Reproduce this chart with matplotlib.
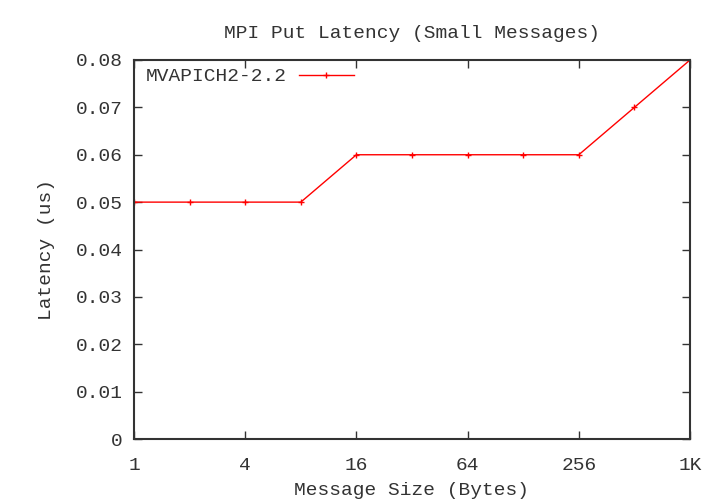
import matplotlib
matplotlib.use('Agg')
import matplotlib.pyplot as plt
from matplotlib.ticker import FixedLocator, NullLocator

plt.rcParams['font.family'] = ['Liberation Mono', 'DejaVu Sans Mono']

# message sizes in bytes and latency in us
sizes = [1, 2, 4, 8, 16, 32, 64, 128, 256, 512, 1024]
latency = [0.05, 0.05, 0.05, 0.05, 0.06, 0.06, 0.06, 0.06, 0.06, 0.07, 0.08]
xtick_vals = [1, 4, 16, 64, 256, 1024]
xtick_labels = ['1', '4', '16', '64', '256', '1K']
ytick_vals = [0, 0.01, 0.02, 0.03, 0.04, 0.05, 0.06, 0.07, 0.08]
ytick_labels = ['0', '0.01', '0.02', '0.03', '0.04', '0.05', '0.06', '0.07', '0.08']

fs = 14
fig = plt.figure(figsize=(7.2, 5.04), dpi=100)
ax = fig.add_axes([134/720, 1 - 439/504, (690-134)/720, (439-60)/504])

ax.plot(sizes, latency, color='red', linewidth=1.0, marker='+', markersize=5,
        markeredgewidth=1.0, label='MVAPICH2-2.2')

ax.set_xscale('log', base=2)
ax.set_xlim(1, 1024)
ax.set_ylim(0, 0.08)
ax.xaxis.set_major_locator(FixedLocator(xtick_vals))
ax.xaxis.set_minor_locator(NullLocator())
ax.set_xticklabels(xtick_labels)
ax.set_yticks(ytick_vals)
ax.set_yticklabels(ytick_labels)

ax.tick_params(direction='in', top=True, right=True, length=6, width=1,
               labelsize=fs, colors='#333333', labelcolor='#333333')
ax.tick_params(axis='x', pad=13)
ax.tick_params(axis='y', pad=8)
for s in ax.spines.values():
    s.set_color('#333333')
    s.set_linewidth(1.5)

ax.set_title('MPI Put Latency (Small Messages)', fontsize=fs, color='#333333', pad=16)
ax.set_xlabel('Message Size (Bytes)', fontsize=fs, color='#333333', labelpad=6)
ax.set_ylabel('Latency (us)', fontsize=fs, color='#333333', labelpad=15)

ax.legend(loc='upper left', bbox_to_anchor=(0.0108, 0.995), frameon=False,
          markerfirst=False, fontsize=fs, handlelength=2.85, handletextpad=0.6,
          borderaxespad=0.1, borderpad=0.2, labelcolor='#333333')

fig.savefig('out.png', dpi=100)
